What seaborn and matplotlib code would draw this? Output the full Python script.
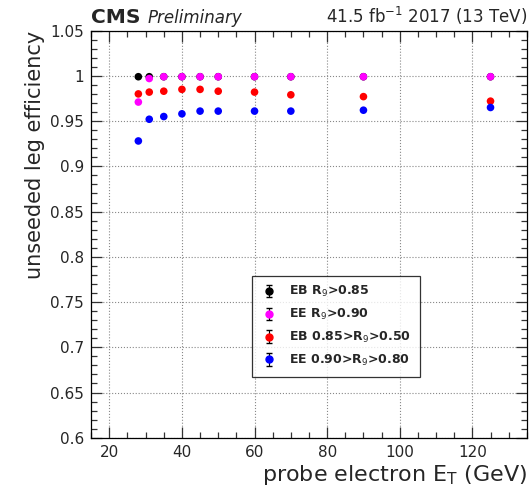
import numpy as np
import pandas as pd
import matplotlib
matplotlib.use("Agg")
import matplotlib.pyplot as plt
from matplotlib.ticker import MultipleLocator, FuncFormatter
import seaborn as sns

# ---- data ----
et_bins = [28, 31, 35, 40, 45, 50, 60, 70, 90, 125]
eb_high = [0.999, 0.999, 0.999, 0.999, 0.999, 0.999, 0.999, 0.999, 0.999, 0.999]
ee_high = [0.971, 0.997, 0.999, 0.999, 0.999, 0.999, 0.999, 0.999, 0.999, 0.999]
eb_mid = [0.980, 0.982, 0.983, 0.985, 0.985, 0.983, 0.982, 0.979, 0.977, 0.972]
ee_mid = [0.928, 0.952, 0.955, 0.958, 0.961, 0.961, 0.961, 0.961, 0.962, 0.965]
errors = [0.002, 0.0015, 0.0012, 0.001, 0.001, 0.001, 0.001, 0.0012, 0.0015, 0.002]
series_names = ["EB R$_9$>0.85", "EE R$_9$>0.90", "EB 0.85>R$_9$>0.50", "EE 0.90>R$_9$>0.80"]
series_colors = ["#000000", "#ff00ff", "#ff0000", "#0000ff"]

sns.set_style("ticks")
plt.rcParams['font.family'] = ['DejaVu Sans']
plt.rcParams['mathtext.fontset'] = 'dejavusans'

frames = []
for name, vals in zip(series_names, [eb_high, ee_high, eb_mid, ee_mid]):
    frames.append(pd.DataFrame({"et": et_bins, "eff": vals, "err": errors, "series": name}))
df = pd.concat(frames, ignore_index=True)

fig = plt.figure(figsize=(5.30, 4.93), dpi=100)
ax = fig.add_axes([0.172, 0.112, 0.822, 0.826])

for name, col in zip(series_names, series_colors):
    sub = df[df.series == name]
    ax.errorbar(sub.et, sub.eff, yerr=sub.err, fmt='none', ecolor=col, elinewidth=0.8, zorder=2)
sns.scatterplot(data=df, x="et", y="eff", hue="series", palette=series_colors,
                s=30, edgecolor='none', legend=False, ax=ax, zorder=3)

ax.set_xlim(15, 135)
ax.set_ylim(0.6, 1.05)
ax.xaxis.set_major_locator(MultipleLocator(20))
ax.xaxis.set_minor_locator(MultipleLocator(5))
ax.yaxis.set_major_locator(MultipleLocator(0.05))
ax.yaxis.set_minor_locator(MultipleLocator(0.01))
ax.yaxis.set_major_formatter(FuncFormatter(lambda v, p: ("%.2f" % v).rstrip('0').rstrip('.')))
ax.tick_params(which='both', direction='in', top=True, right=True, labelsize=11,
               color='#333333', pad=5)
ax.tick_params(which='major', length=8, width=0.9)
ax.tick_params(which='minor', length=4.5, width=0.9)
ax.grid(True, which='major', linestyle=':', color='#888888', linewidth=0.8)
for sp in ax.spines.values():
    sp.set_linewidth(0.9)
    sp.set_color('black')

ax.set_xlabel("probe electron E$_\\mathregular{T}$ (GeV)", fontsize=16, loc='right', labelpad=2)
ax.set_ylabel("unseeded leg efficiency", fontsize=15, loc='top', labelpad=4)

handles = []
for name, col in zip(series_names, series_colors):
    h = ax.errorbar([np.nan], [np.nan], yerr=[0.01], fmt='o', color=col, ecolor='black',
                    markersize=5, elinewidth=0.8, capsize=2.5, label=name)
    handles.append(h)
leg = ax.legend(handles=handles, labels=series_names, loc='lower left',
                bbox_to_anchor=(0.369, 0.15), borderaxespad=0,
                prop={'weight': 'bold', 'size': 9},
                frameon=True, fancybox=False, edgecolor='black', labelspacing=0.62,
                borderpad=0.7, handlelength=1.4, handletextpad=0.9)
leg.get_frame().set_linewidth(0.9)

fig.text(0.172, 0.953, "CMS", fontsize=14.5, fontweight='bold', ha='left', va='baseline')
fig.text(0.279, 0.953, "Preliminary", fontsize=12, style='italic', ha='left', va='baseline')
fig.text(0.994, 0.953, "41.5 fb$^{-1}$ 2017 (13 TeV)", fontsize=12, ha='right', va='baseline')

fig.savefig("out.png", dpi=100)
